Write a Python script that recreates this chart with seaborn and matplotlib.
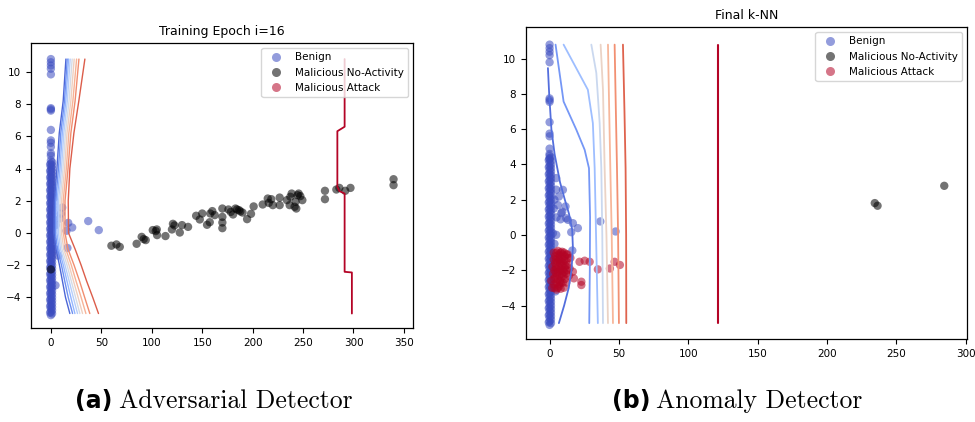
import numpy as np
import pandas as pd
import matplotlib
matplotlib.use("Agg")
import matplotlib.pyplot as plt
from matplotlib.lines import Line2D
import seaborn as sns

sns.set_style("ticks", {"axes.edgecolor": "black", "xtick.color": "black",
                        "ytick.color": "black", "text.color": "black"})
plt.rcParams["font.family"] = ["DejaVu Sans"]

CLASSES = ["Benign", "Malicious No-Activity", "Malicious Attack"]
PALETTE = {"Benign": "#3b4cc0", "Malicious No-Activity": "black", "Malicious Attack": "#b40426"}

# dense benign column sitting on x ~ 0 (same in both panels)
col0_y = [-5.1, -4.9, -4.7, -4.5, -4.3, -4.1, -3.9, -3.7, -3.5, -3.3, -3.1, -2.9, -2.7,
          -2.5, -2.3, -2.1, -1.9, -1.7, -1.5, -1.3, -1.1, -0.9, -0.7, -0.5, -0.3, -0.1,
          0.1, 0.3, 0.5, 0.7, 0.9, 1.1, 1.3, 1.5, 1.7, 1.9, 2.1, 2.3, 2.5, 2.7, 2.9,
          3.1, 3.3, 3.5, 3.7, 3.9, 4.1, 4.3, 4.5]
col1_y = [-5.0, -4.8, -4.6, -4.4, -4.2, -4.0, -3.8, -3.6, -3.4, -3.2, -3.0, -2.8, -2.6,
          -2.4, -2.2, -2.0, -1.8, -1.6, -1.4, -1.2, -1.0, -0.8, -0.6, -0.4, -0.2, 0.0,
          0.2, 0.4, 0.6, 0.8, 1.0, 1.2, 1.4, 1.6, 1.8, 2.0, 2.2, 2.4, 2.6, 2.8, 3.0,
          3.2, 3.4, 3.6, 3.8, 4.0, 4.2, 4.4]
col2_y = [-4.95, -4.55, -4.15, -3.75, -3.35, -2.95, -2.55, -2.15, -1.75, -1.35, -0.95,
          -0.55, -0.15, 0.25, 0.65, 1.05, 1.45, 1.85, 2.25, 2.65, 3.05, 3.45, 3.85, 4.25]

# ---------------- (a) Training Epoch i=16 ----------------
a_benign_x = [0, 0, 0, 0, 0, 0, 0, 0, 0, 0, 0, 0, 0, 0,
              11.2, 17.2, 15.5, 21.1, 37.0, 47.5, 16.4, 4.6, 9.0, 7.0, 4.0, 3.0, 10.0, 5.0]
a_benign_y = [10.8, 10.6, 10.4, 10.2, 9.85, 7.75, 7.68, 7.6, 6.4, 5.75, 5.6, 5.35, 4.95, 4.8,
              1.58, 0.63, 0.14, 0.34, 0.74, 0.18, -0.93, -3.25, 0.9, -1.4, -1.0, 2.2, 1.2, 0.5]
a_noact_x = [0, 60, 65, 68.3, 85, 90, 92, 94, 101, 104, 105, 105.3, 113.6, 120, 121, 122.5,
             127.8, 130, 136, 144, 147.6, 150, 154.8, 157.5, 158, 160, 162.4, 170, 170, 170,
             170, 176, 178.3, 180.6, 183, 184.5, 186.5, 187.8, 190, 194.5, 198.4, 201, 210,
             215, 216, 218.5, 220, 226.8, 226.8, 234, 236.7, 237.4, 238.7, 241.6, 242.6,
             243.3, 244.6, 245.6, 247.3, 249.3, 271.7, 271.7, 283, 286, 291.8, 297, 339.7, 339.7]
a_noact_y = [-2.26, -0.79, -0.71, -0.86, -0.67, -0.24, -0.38, -0.44, 0.18, 0.12, 0.22, -0.13,
             -0.19, 0.22, 0.57, 0.47, 0.03, 0.49, 0.38, 1.07, 0.84, 1.21, 0.51, 0.67, 1.21,
             1.36, 1.11, 1.52, 1.0, 0.65, 0.30, 1.46, 1.31, 1.15, 1.52, 1.46, 1.42, 1.34, 1.27,
             0.86, 1.19, 1.65, 1.77, 2.14, 1.87, 2.10, 1.73, 2.20, 1.73, 2.04, 1.73, 2.25, 2.45,
             1.63, 1.94, 1.52, 2.35, 2.45, 2.29, 2.04, 2.62, 2.10, 2.70, 2.80, 2.62, 2.80,
             3.34, 2.97]
a_attack_x = []
a_attack_y = []

# contour lines of (a): x position at each y level
a_lvl_y = [10.8, 8.2, 6.2, 4.0, 2.0, 0.0, -1.0, -2.0, -3.0, -4.0, -5.0]
a_lines_x = [
    [14.9, 12.2, 8.3, 6.0, 3.5, 3.0, 5.0, 8.5, 11.5, 14.5, 18.8],
    [16.2, 13.5, 9.8, 7.5, 4.8, 4.5, 6.5, 10.5, 13.8, 17.2, 21.5],
    [17.5, 14.8, 11.3, 9.0, 6.2, 6.0, 8.0, 12.3, 16.0, 19.8, 23.8],
    [19.1, 16.3, 12.8, 10.5, 7.6, 7.5, 9.5, 14.0, 18.2, 22.2, 26.4],
    [21.1, 18.0, 14.4, 12.0, 9.0, 9.0, 11.0, 16.0, 20.3, 24.5, 28.7],
    [23.1, 19.8, 16.0, 13.6, 10.5, 10.5, 12.8, 18.0, 22.5, 27.0, 31.4],
    [25.5, 21.8, 17.8, 15.3, 12.2, 12.3, 14.8, 20.3, 25.0, 30.0, 34.7],
    [27.8, 24.0, 19.8, 17.0, 14.0, 14.0, 17.0, 23.0, 28.5, 33.5, 38.6],
    [33.7, 27.7, 22.8, 18.8, 17.2, 17.5, 24.0, 30.0, 35.5, 41.5, 47.2],
]
a_lines_c = [0.06, 0.16, 0.27, 0.37, 0.47, 0.58, 0.68, 0.78, 0.88]
a_edge_x = [291.2, 291.2, 284.0, 284.0, 286.0, 291.2, 291.2, 298.4, 298.4]
a_edge_y = [10.8, 6.6, 6.32, 2.87, 2.6, 2.45, -2.41, -2.45, -5.0]
a_frag_x = [1.5, 0.6, 0.9]
a_frag_y = [1.7, 1.4, 1.1]

# ---------------- (b) Final k-NN ----------------
b_benign_x = [0, 0, 0, 0, 0, 0, 0, 0, 0, 0, 0, 0, 0, 0,
              4.8, 4.8, 11.5, 8.4, 13.2, 16.8, 20.4, 15.6, 36.6, 47.6, 16.4, 4.3, 6.7,
              6.0, 9.1, 7.9, 12.0, 2.4, 9.6, 4.8, 3.0, 3.5, 2.5, 3.5, 5.0]
b_benign_y = [10.8, 10.6, 10.4, 10.2, 9.8, 7.75, 7.65, 7.55, 6.4, 5.75, 5.6, 4.9, 4.6, 4.35,
              3.23, 2.57, 1.62, 1.24, 0.86, 0.67, 0.39, 0.16, 0.77, 0.2, -0.88, -3.2, 2.18,
              1.7, 1.32, 0.89, 0.95, 0.1, 2.56, 0.01, 1.5, -0.5, -2.0, 2.0, 1.0]
b_noact_x = [234.5, 236.5, 284.6]
b_noact_y = [1.81, 1.66, 2.79]
b_attack_x = [4, 5, 6.5, 8, 9.5, 11, 4, 5.5, 7, 8.5, 10, 12, 3.5, 5, 6.5, 8, 9.5, 11, 13,
              4, 5.5, 7, 8.5, 10, 12, 3, 5, 6.5, 8, 2.5, 14.4, 16.8, 17.5, 10.3, 1.2, 1.9,
              21.6, 25.3, 28.9, 34.8, 43.5, 46.9, 50.7, 22.9, 22.9, 15, 13,
              3, 6, 7.5, 9, 10.5, 12, 13.5, 4.5, 6, 7.5, 9, 10.5, 11.5, 4.5, 6, 7.5, 9,
              10.5, 12.5, 3, 4.5, 6, 7.5, 9, 11, 3.5, 6, 8, 2, 3, 14, 12, 7, 9.5, 5]
b_attack_y = [-1.2, -1.0, -1.1, -1.0, -1.1, -1.2, -1.6, -1.5, -1.4, -1.5, -1.6, -1.5, -2.0,
              -1.9, -1.8, -1.9, -2.0, -1.9, -1.7, -2.4, -2.3, -2.3, -2.4, -2.3, -2.2, -2.8,
              -2.7, -2.8, -2.7, -2.2, -1.89, -2.08, -2.46, -2.99, -2.6, -3.0, -1.52, -1.46,
              -1.52, -1.95, -1.9, -1.52, -1.7, -2.65, -2.84, -1.3, -1.1,
              -1.0, -0.9, -1.2, -0.95, -1.0, -1.1, -1.3, -1.4, -1.35, -1.6, -1.35, -1.45,
              -1.75, -1.8, -2.1, -2.0, -1.75, -2.1, -2.0, -2.5, -2.15, -2.55, -2.6, -2.2,
              -2.5, -3.0, -3.0, -3.05, -1.8, -1.4, -2.3, -2.7, -2.9, -2.7, -3.1]

b_lines = [
    ([-1.2, -0.3, 1.3, 3.6, 7.5, 11.0, 14.0, 16.3, 16.8, 15.8, 13.8, 10.5, 6.7],
     [9.47, 8.0, 6.0, 4.6, 3.0, 2.0, 1.2, 0.3, -0.7, -2.0, -3.0, -4.0, -5.0]),
    ([4.3, 10.1, 19.3, 25.3, 28.4, 29.2, 29.0, 28.6],
     [10.8, 7.57, 5.97, 4.83, 3.79, 1.0, -2.0, -5.0]),
    ([10.1, 27.6, 31.2, 32.5, 33.5, 34.8], [10.8, 8.24, 6.35, 3.8, 0.0, -5.0]),
    ([30.1, 33.7, 36.1, 37.3, 38.0, 38.5], [10.8, 9.19, 6.35, 3.79, 0.0, -5.0]),
    ([36.8, 38.5, 39.7, 41.0, 42.1], [10.8, 8.24, 3.79, 0.0, -5.0]),
    ([42.1, 43.0, 43.8, 44.8, 45.7], [10.8, 7.0, 3.79, 0.0, -5.0]),
    ([46.9, 47.8, 48.6, 49.4, 50.0], [10.8, 7.0, 3.79, 0.0, -5.0]),
    ([52.9, 54.0, 54.8, 55.2, 55.3], [10.8, 7.0, 3.79, 0.0, -5.0]),
]
b_lines_c = [0.08, 0.18, 0.3, 0.43, 0.56, 0.67, 0.77, 0.87]
b_edge_x = [121.5, 121.5]
b_edge_y = [10.8, -5.0]


def make_frame(bx, by, nx, ny, tx, ty, col_xs):
    parts = [pd.DataFrame({"x": np.full(len(c), cx), "y": c, "cls": "Benign"})
             for c, cx in zip([col0_y, col1_y, col2_y], col_xs)]
    parts += [
        pd.DataFrame({"x": bx, "y": by, "cls": "Benign"}),
        pd.DataFrame({"x": nx, "y": ny, "cls": "Malicious No-Activity"}),
        pd.DataFrame({"x": tx, "y": ty, "cls": "Malicious Attack"}),
    ]
    return pd.concat([p for p in parts if len(p)], ignore_index=True)


cmap = plt.get_cmap("coolwarm")
fig = plt.figure(figsize=(9.75, 4.22), dpi=100)
ax1 = fig.add_axes([0.0315, 0.2227, 0.3921, 0.6755])
ax2 = fig.add_axes([0.5395, 0.1967, 0.4523, 0.7393])

df_a = make_frame(a_benign_x, a_benign_y, a_noact_x, a_noact_y,
                  a_attack_x, a_attack_y, [0.0, 1.2, -0.8])
df_b = make_frame(b_benign_x, b_benign_y, b_noact_x, b_noact_y,
                  b_attack_x, b_attack_y, [0.0, 1.0, -0.6])

ax1.plot(a_frag_x, a_frag_y, color=cmap(1.0), lw=1.0, zorder=1)

for ax, df in [(ax1, df_a), (ax2, df_b)]:
    sns.scatterplot(data=df, x="x", y="y", hue="cls", hue_order=CLASSES, palette=PALETTE,
                    alpha=0.55, s=36, linewidth=0, legend=False, ax=ax, zorder=2)

for xs, c in zip(a_lines_x, a_lines_c):
    ax1.plot(xs, a_lvl_y, color=cmap(c), lw=1.0, zorder=3)
ax1.plot(a_edge_x, a_edge_y, color=cmap(1.0), lw=1.3, zorder=3)

for (xs, ys), c in zip(b_lines, b_lines_c):
    ax2.plot(xs, ys, color=cmap(c), lw=1.3, zorder=3)
ax2.plot(b_edge_x, b_edge_y, color=cmap(1.0), lw=1.5, zorder=3)

ax1.set_xlim(-20, 359)
ax2.set_xlim(-17, 301)
ax1.set_xticks([0, 50, 100, 150, 200, 250, 300, 350])
ax2.set_xticks([0, 50, 100, 150, 200, 250, 300])
for ax in (ax1, ax2):
    ax.set_ylim(-5.9, 11.8)
    ax.set_yticks([-4, -2, 0, 2, 4, 6, 8, 10])
    ax.set_xlabel("")
    ax.set_ylabel("")
    ax.tick_params(labelsize=7.5, length=3.5, width=0.8)
    for sp in ax.spines.values():
        sp.set_visible(True)
        sp.set_linewidth(0.9)
        sp.set_color("black")
    handles = [Line2D([], [], marker="o", linestyle="", markersize=6.5, markeredgewidth=0,
                      color=PALETTE[c], alpha=0.55, label=c) for c in CLASSES]
    ax.legend(handles=handles, loc="upper right", fontsize=7.5, frameon=True,
              framealpha=0.8, edgecolor="#cccccc", fancybox=True)

ax1.set_title("Training Epoch i=16", fontsize=9)
ax2.set_title("Final k-NN", fontsize=9)

fig.text(0.077, 0.05, "(a)", fontsize=17, fontweight="bold", va="center", ha="left")
fig.text(0.122, 0.05, "Adversarial Detector", fontsize=18.5, family="cmr10",
         va="center", ha="left")
fig.text(0.628, 0.05, "(b)", fontsize=17, fontweight="bold", va="center", ha="left")
fig.text(0.673, 0.05, "Anomaly Detector", fontsize=18.5, family="cmr10",
         va="center", ha="left")

fig.savefig("out.png", dpi=100)
